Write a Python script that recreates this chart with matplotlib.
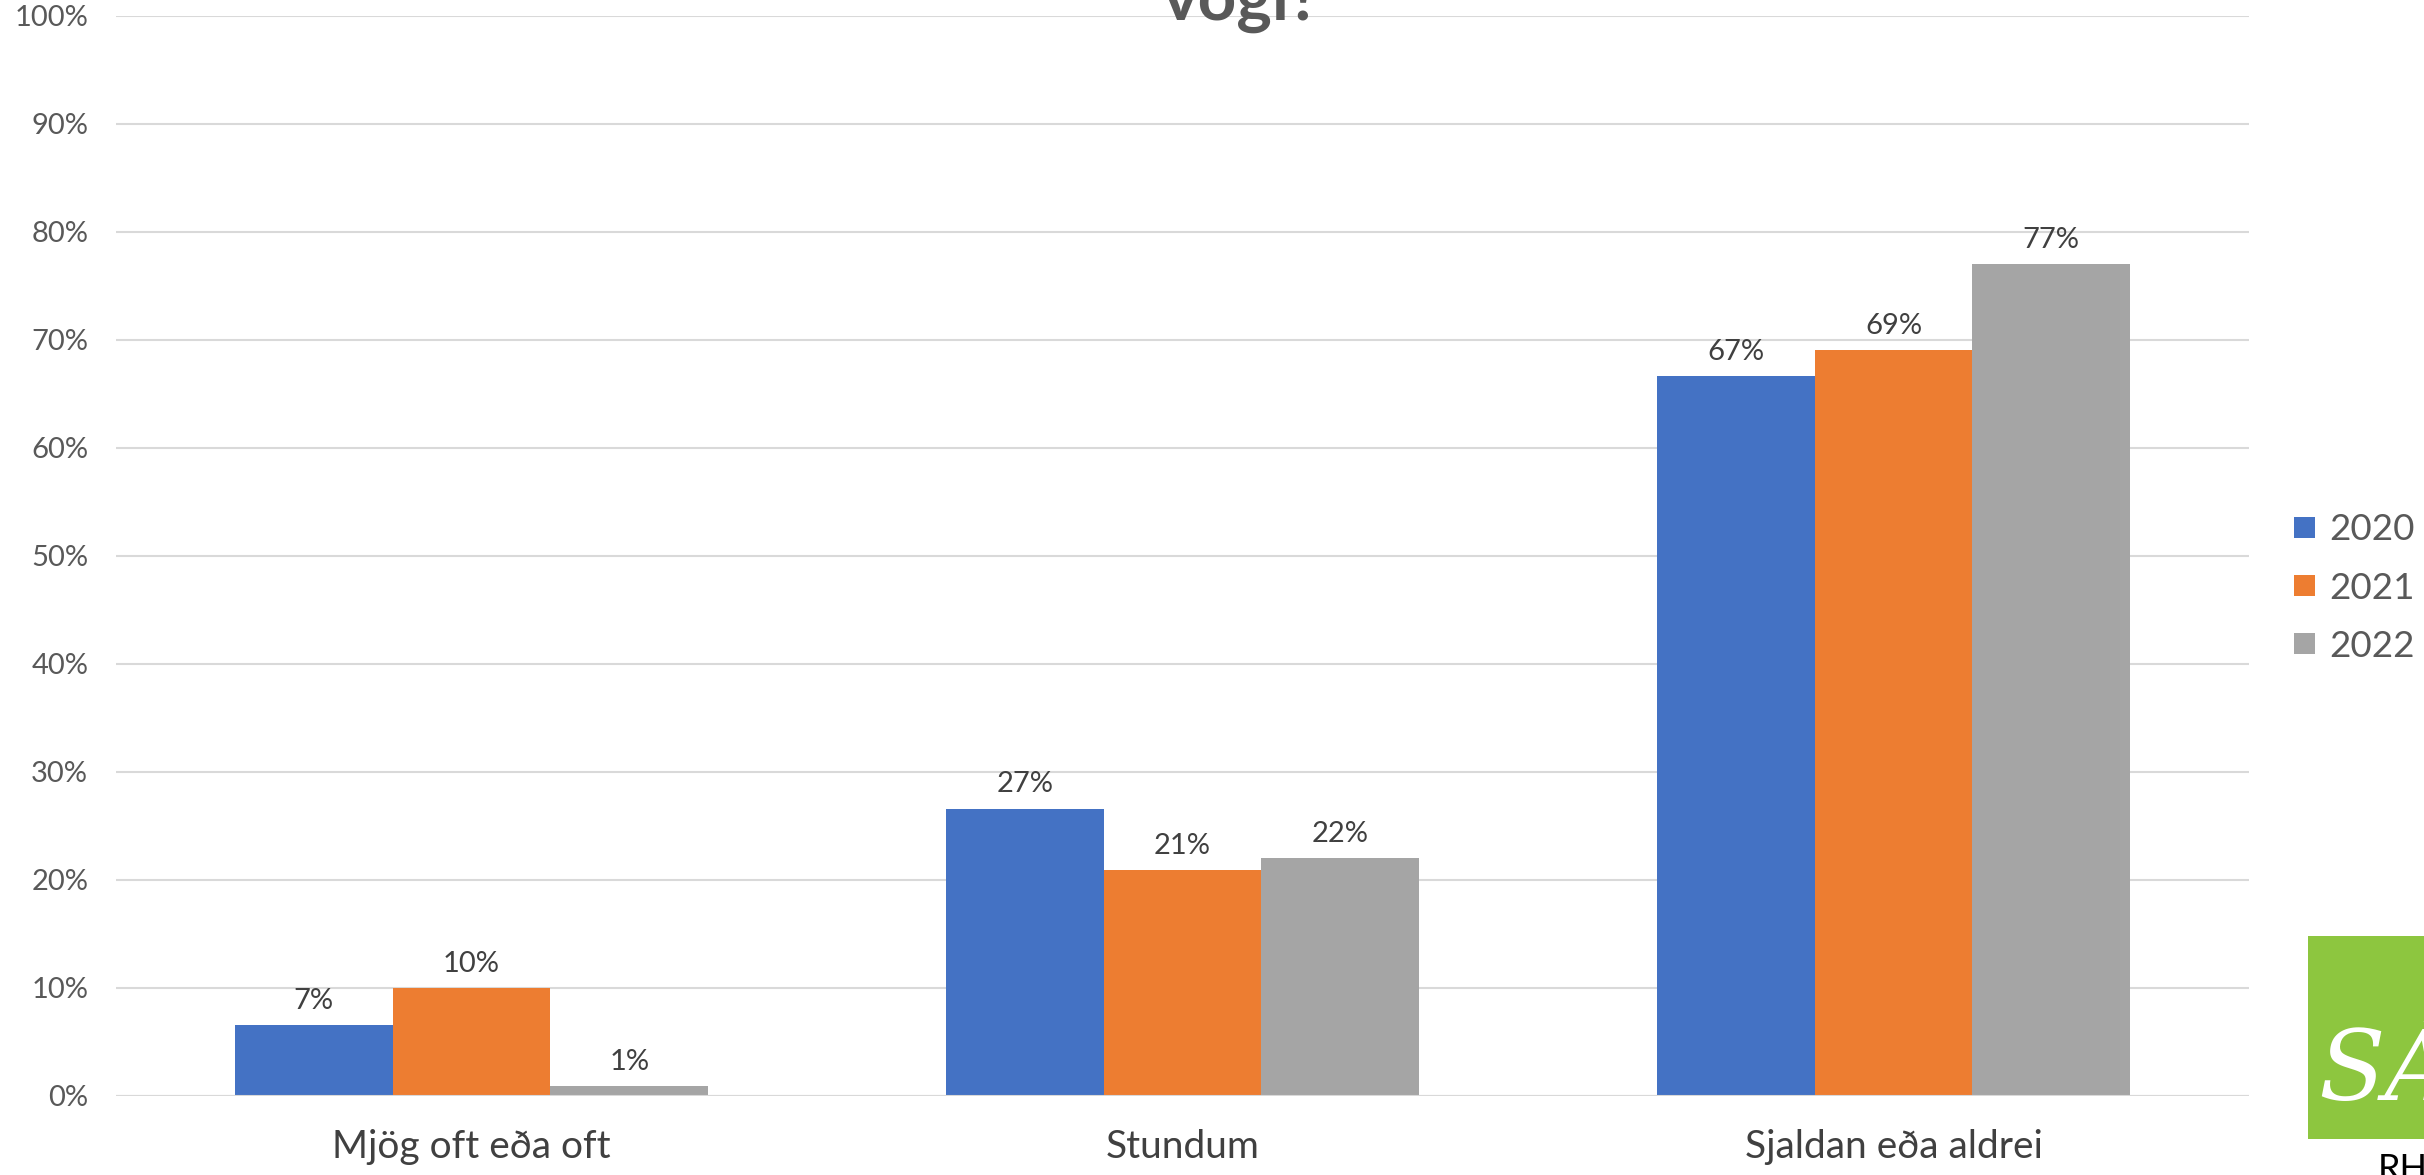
import matplotlib
matplotlib.use("Agg")
import matplotlib.pyplot as plt
from matplotlib.patches import Rectangle, Patch
import numpy as np

plt.rcParams['font.family'] = ['Lato', 'DejaVu Sans']

categories = ["Mjög oft eða oft", "Stundum", "Sjaldan eða aldrei"]
series_names = ["2020", "2021", "2022"]
v2020 = [0.066, 0.266, 0.666]
v2021 = [0.100, 0.209, 0.690]
v2022 = [0.009, 0.220, 0.770]
labels2020 = ["7%", "27%", "67%"]
labels2021 = ["10%", "21%", "69%"]
labels2022 = ["1%", "22%", "77%"]
yticks = [0, 0.1, 0.2, 0.3, 0.4, 0.5, 0.6, 0.7, 0.8, 0.9, 1.0]
yticklabels = ["0%", "10%", "20%", "30%", "40%", "50%", "60%", "70%", "80%", "90%", "100%"]
title_text = "vogi?"

colors = ["#4472C4", "#ED7D31", "#A5A5A5"]

W, H = 2424, 1175
fig = plt.figure(figsize=(W/100, H/100), dpi=100)
ax = fig.add_axes([116/W, 1-1096/H, (2249-116)/W, (1096-15.5)/H])

x = np.arange(len(categories))
bw = 0.222
allvals = [v2020, v2021, v2022]
alllabels = [labels2020, labels2021, labels2022]
handles = []
for i, (vals, labs) in enumerate(zip(allvals, alllabels)):
    pos = x + (i-1)*bw
    bars = ax.bar(pos, vals, width=bw, color=colors[i], zorder=3, label=series_names[i])
    for b, lab in zip(bars, labs):
        ax.annotate(lab, (b.get_x()+b.get_width()/2, b.get_height()),
                    xytext=(0, 8), textcoords='offset points', ha='center', va='bottom',
                    fontsize=21, color='#404040')
    handles.append(Patch(facecolor=colors[i], label=series_names[i]))

ax.set_xlim(-0.5, 2.5)
ax.set_ylim(0, 1.0)
ax.set_yticks(yticks)
ax.set_yticklabels(yticklabels, fontsize=21, color='#595959')
ax.set_xticks(x)
ax.set_xticklabels(categories, fontsize=28, color='#404040')
ax.tick_params(axis='y', length=0, pad=20)
ax.tick_params(axis='x', length=0, pad=24)
ax.grid(axis='y', color='#D9D9D9', linewidth=1.5, zorder=0)
for s in ax.spines.values():
    s.set_visible(False)
ax.axhline(0, color='#D9D9D9', linewidth=1.5, zorder=4)

leg = fig.legend(handles=handles, loc='center left', bbox_to_anchor=(2294/W, 1-588/H),
                 frameon=False, fontsize=26.5, handlelength=0.57, handleheight=0.5,
                 handletextpad=0.4, labelspacing=0.69, labelcolor='#595959',
                 borderpad=0, borderaxespad=0)

fig.text(1242/W, 1-20/H, title_text, ha='center', va='baseline', fontsize=48.5,
         fontweight='bold', color='#595959')

# logo
fig.patches.append(Rectangle((2308/W, 1-1139/H), (W-2308)/W+0.01, (1139-936)/H,
                             transform=fig.transFigure, facecolor='#8DC63F', edgecolor='none'))
fig.text(2318/W, 1-1100/H, "SÁ", fontsize=70, style='italic', color='white',
         family=['DejaVu Serif'], va='baseline', ha='left')
fig.text(2378/W, 1-1153/H, "RH", fontsize=26, color='black', va='top', ha='left')

fig.savefig("out.png", dpi=100)
